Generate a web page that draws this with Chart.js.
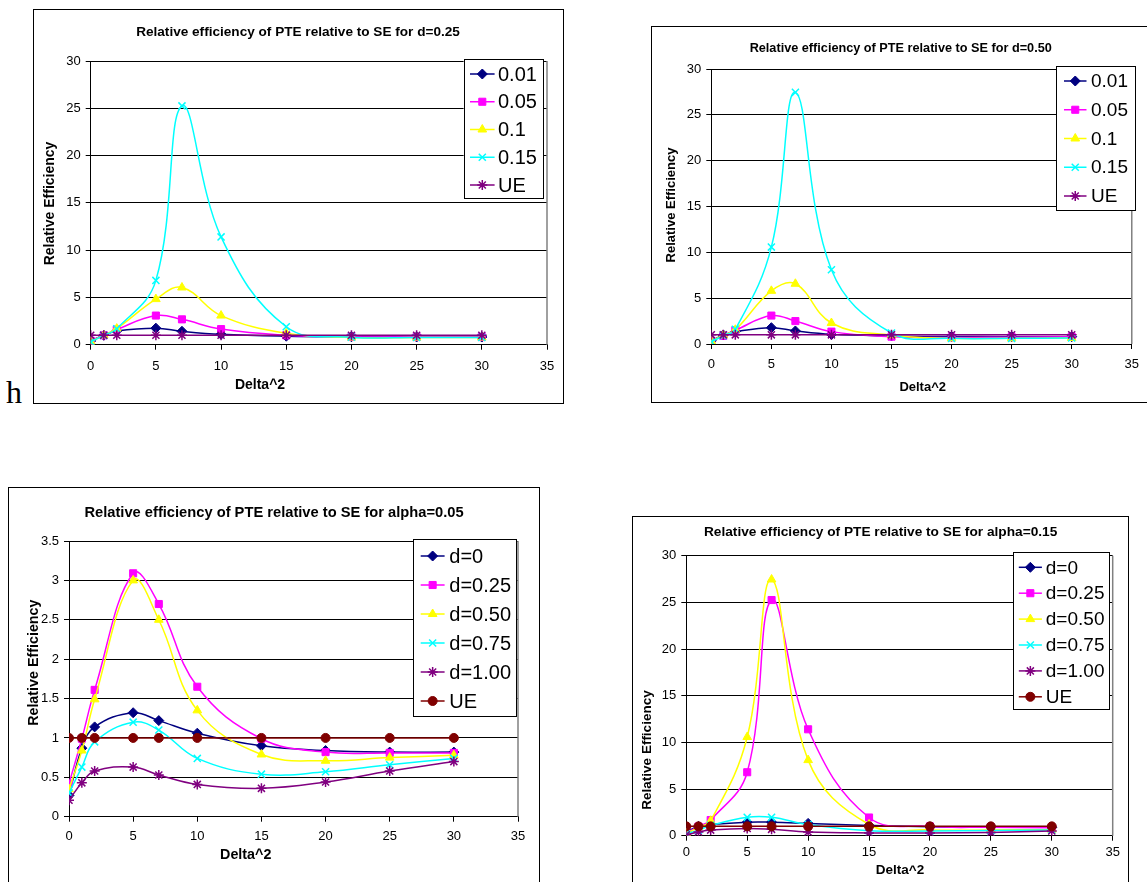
<!DOCTYPE html>
<html>
<head>
<meta charset="utf-8">
<script src="https://cdn.jsdelivr.net/npm/chart.js@4.4.0/dist/chart.umd.min.js"></script>
<style>
  body { margin: 0; background: #fff; width: 1147px; height: 882px; overflow: hidden; position: relative; }
  .frame { position: absolute; border: 1px solid #000; box-sizing: border-box; }
  canvas { position: absolute; left: 0; top: 0; pointer-events: none; }
  #h { position: absolute; left: 6px; top: 376px; font-family: "Liberation Serif", "DejaVu Serif", serif; font-size: 32px; line-height: 32px; }
</style>
</head>
<body>
<div id="h">h</div>
<div class="frame" style="left:33px;top:9px;width:531px;height:395px"></div>
<div class="frame" style="left:651px;top:26px;width:520px;height:377px"></div>
<div class="frame" style="left:8px;top:487px;width:532px;height:420px"></div>
<div class="frame" style="left:632px;top:516px;width:497px;height:400px"></div>
<canvas id="c1" width="1147" height="882"></canvas>
<canvas id="c2" width="1147" height="882"></canvas>
<canvas id="c3" width="1147" height="882"></canvas>
<canvas id="c4" width="1147" height="882"></canvas>
<script>
// Data
const deltaSq = [0, 1, 2, 5, 7, 10, 15, 20, 25, 30];

const alphaLabels = ['0.01', '0.05', '0.1', '0.15', 'UE'];
const dLabels = ['d=0', 'd=0.25', 'd=0.50', 'd=0.75', 'd=1.00', 'UE'];

// d = 0.25, by alpha
const a01_d25 = [0.40, 1.00, 1.45, 1.75, 1.42, 1.10, 0.90, 0.84, 0.82, 0.81];
const a05_d25 = [0.42, 0.99, 1.61, 3.08, 2.68, 1.65, 0.99, 0.82, 0.81, 0.81];
const a10_d25 = [0.35, 0.98, 1.70, 4.82, 6.05, 3.08, 1.20, 0.76, 0.75, 0.76];
const a15_d25 = [0.30, 0.98, 1.68, 6.80, 25.25, 11.40, 1.90, 0.80, 0.76, 0.76];
const ue_d25 = [1, 1, 1, 1, 1, 1, 1, 1, 1, 1];

// d = 0.50, by alpha
const a01_d50 = [0.35, 0.98, 1.34, 1.78, 1.42, 1.05, 0.88, 0.82, 0.80, 0.80];
const a05_d50 = [0.35, 0.88, 1.50, 3.10, 2.50, 1.35, 0.80, 0.72, 0.75, 0.78];
const a10_d50 = [0.30, 0.95, 1.55, 5.80, 6.57, 2.29, 0.95, 0.62, 0.62, 0.65];
const a15_d50 = [0.25, 0.90, 1.60, 10.57, 27.45, 8.10, 1.20, 0.62, 0.62, 0.65];
const ue_d50 = [1, 1, 1, 1, 1, 1, 1, 1, 1, 1];

// alpha = 0.05, by d
const d0_a05 = [0.27, 0.87, 1.14, 1.32, 1.22, 1.06, 0.90, 0.84, 0.82, 0.82];
const d25_a05 = [0.42, 0.99, 1.61, 3.09, 2.70, 1.65, 0.99, 0.82, 0.81, 0.81];
const d50_a05 = [0.35, 0.84, 1.49, 3.00, 2.50, 1.35, 0.79, 0.71, 0.75, 0.78];
const d75_a05 = [0.30, 0.63, 0.95, 1.20, 1.10, 0.74, 0.54, 0.57, 0.66, 0.74];
const d100_a05 = [0.21, 0.43, 0.58, 0.63, 0.53, 0.41, 0.36, 0.44, 0.58, 0.70];
const ue_a05 = [1, 1, 1, 1, 1, 1, 1, 1, 1, 1];

// alpha = 0.15, by d
const d0_a15 = [0.40, 1.00, 1.20, 1.45, 1.45, 1.32, 1.10, 0.95, 0.92, 0.90];
const d25_a15 = [0.30, 0.98, 1.68, 6.80, 25.25, 11.40, 1.95, 1.00, 0.90, 0.85];
const d50_a15 = [0.25, 0.90, 1.60, 10.57, 27.45, 8.10, 1.20, 0.62, 0.62, 0.65];
const d75_a15 = [0.20, 0.60, 1.10, 1.97, 1.97, 1.20, 0.54, 0.50, 0.55, 0.60];
const d100_a15 = [0.10, 0.40, 0.60, 0.78, 0.68, 0.40, 0.30, 0.30, 0.35, 0.50];
const ue_a15 = [1, 1, 1, 1, 1, 1, 1, 1, 1, 1];

// Styles
const FONT = '"Liberation Sans", Arial, sans-serif';
const W = 1147, H = 882;
const Y_W = 40, X_H = 30;

const navy = { color: '#000080', point: 'rectRot', r: 5 };
const pink = { color: '#FF00FF', point: 'rect', r: 5 };
const yellow = { color: '#FFFF00', point: 'triangle', r: 5 };
const cyan = { color: '#00FFFF', point: 'crossRot', r: 5 };
const purple = { color: '#800080', point: 'star', r: 5 };
const maroon = { color: '#800000', point: 'circle', r: 4.5 };

const charts = [
  {
    id: 'c1', title: 'Relative efficiency of PTE relative to SE for d=0.25', titleAt: [298, 32], titleSize: 13.6,
    plot: { l: 90.7, t: 61, r: 547, b: 344.7 }, yMax: 30, yStep: 5, xPad: 8.5,
    xTitleAt: [260, 385], yTitleAt: [50, 203.5], axisSize: 14,
    legend: { l: 463.6, t: 59, r: 543, b: 197.7, y0: 74, step: 27.75, lx1: 470, lx2: 494.6, tx: 498, size: 20 },
    labels: alphaLabels, styles: [navy, pink, yellow, cyan, purple],
    series: [a01_d25, a05_d25, a10_d25, a15_d25, ue_d25]
  },
  {
    id: 'c2', title: 'Relative efficiency of PTE relative to SE for d=0.50', titleAt: [900.7, 48.7], titleSize: 12.7,
    plot: { l: 711.3, t: 69, r: 1135, b: 344 }, yMax: 30, yStep: 5, xPad: 8,
    xTitleAt: [922.7, 387], yTitleAt: [671.5, 205], axisSize: 13,
    legend: { l: 1056, t: 66, r: 1134.7, b: 210, y0: 81, step: 28.75, lx1: 1064, lx2: 1086.5, tx: 1091, size: 19 },
    labels: alphaLabels, styles: [navy, pink, yellow, cyan, purple],
    series: [a01_d50, a05_d50, a10_d50, a15_d50, ue_d50]
  },
  {
    id: 'c3', title: 'Relative efficiency of PTE relative to SE for alpha=0.05', titleAt: [274, 513.3], titleSize: 14.7,
    plot: { l: 69, t: 541, r: 518, b: 816.7 }, yMax: 3.5, yStep: 0.5, xPad: 7,
    xTitleAt: [245.7, 855], yTitleAt: [34, 662.7], axisSize: 14.3,
    legend: { l: 413, t: 539, r: 516, b: 715.7, y0: 556, step: 29, lx1: 420.7, lx2: 444.6, tx: 449.3, size: 20 },
    labels: dLabels, styles: [navy, pink, yellow, cyan, purple, maroon],
    series: [d0_a05, d25_a05, d50_a05, d75_a05, d100_a05, ue_a05]
  },
  {
    id: 'c4', title: 'Relative efficiency of PTE relative to SE for alpha=0.15', titleAt: [880.6, 532.7], titleSize: 13.7,
    plot: { l: 686.3, t: 555.7, r: 1112.7, b: 835.7 }, yMax: 30, yStep: 5, xPad: 4,
    xTitleAt: [900, 870], yTitleAt: [646.8, 750], axisSize: 13.5,
    legend: { l: 1013.4, t: 552.3, r: 1109.4, b: 709, y0: 567.3, step: 25.9, lx1: 1018.8, lx2: 1041.9, tx: 1045.8, size: 19 },
    labels: dLabels, styles: [navy, pink, yellow, cyan, purple, maroon],
    series: [d0_a15, d25_a15, d50_a15, d75_a15, d100_a15, ue_a15]
  }
];

// Titles, plot frame and boxed legend
const decor = {
  id: 'decor',
  afterDraw(chart) {
    const cfg = chart.config._config.cfg;
    const ctx = chart.ctx;
    const area = chart.chartArea;
    ctx.save();

    // right edge of plot area
    ctx.strokeStyle = '#808080';
    ctx.lineWidth = 1.5;
    ctx.beginPath();
    ctx.moveTo(area.right, area.top);
    ctx.lineTo(area.right, area.bottom);
    ctx.stroke();

    ctx.fillStyle = '#000';
    ctx.textAlign = 'center';
    ctx.textBaseline = 'middle';
    ctx.font = 'bold ' + cfg.titleSize + 'px ' + FONT;
    ctx.fillText(cfg.title, cfg.titleAt[0], cfg.titleAt[1]);

    ctx.font = 'bold ' + cfg.axisSize + 'px ' + FONT;
    ctx.fillText('Delta^2', cfg.xTitleAt[0], cfg.xTitleAt[1]);
    ctx.save();
    ctx.translate(cfg.yTitleAt[0], cfg.yTitleAt[1]);
    ctx.rotate(-Math.PI / 2);
    ctx.fillText('Relative Efficiency', 0, 0);
    ctx.restore();

    // legend
    const lg = cfg.legend;
    ctx.fillStyle = '#fff';
    ctx.fillRect(lg.l, lg.t, lg.r - lg.l, lg.b - lg.t);
    ctx.strokeStyle = '#000';
    ctx.lineWidth = 1;
    ctx.strokeRect(Math.round(lg.l) + 0.5, Math.round(lg.t) + 0.5, Math.round(lg.r - lg.l), Math.round(lg.b - lg.t));

    chart.data.datasets.forEach((ds, i) => {
      const y = lg.y0 + i * lg.step;
      ctx.strokeStyle = ds.borderColor;
      ctx.lineWidth = 1.5;
      ctx.beginPath();
      ctx.moveTo(lg.lx1, y);
      ctx.lineTo(lg.lx2, y);
      ctx.stroke();
      ctx.fillStyle = ds.pointBackgroundColor;
      ctx.strokeStyle = ds.pointBorderColor;
      ctx.lineWidth = ds.pointBorderWidth;
      Chart.helpers.drawPoint(ctx, { pointStyle: ds.pointStyle, radius: ds.pointRadius, rotation: 0, borderWidth: ds.pointBorderWidth }, (lg.lx1 + lg.lx2) / 2, y);
      ctx.fillStyle = '#000';
      ctx.textAlign = 'left';
      ctx.font = lg.size + 'px ' + FONT;
      ctx.fillText(ds.label, lg.tx, y + 1);
    });
    ctx.restore();
  }
};

charts.forEach(cfg => {
  const datasets = cfg.labels.map((lab, i) => {
    const st = cfg.styles[i];
    return {
      label: lab,
      data: deltaSq.map((x, j) => ({ x: x, y: cfg.series[i][j] })),
      borderColor: st.color,
      backgroundColor: st.color,
      pointStyle: st.point,
      pointRadius: st.r,
      pointBackgroundColor: st.color,
      pointBorderColor: st.color,
      pointBorderWidth: (st.point === 'crossRot' || st.point === 'star') ? 1.5 : 1,
      borderWidth: 1.5,
      tension: 0.4,
      order: 10 - i
    };
  });

  const config = {
    type: 'line',
    data: { datasets: datasets },
    options: {
      responsive: false,
      animation: false,
      devicePixelRatio: 1,
      layout: {
        padding: {
          left: cfg.plot.l - Y_W,
          right: W - cfg.plot.r,
          top: cfg.plot.t,
          bottom: H - cfg.plot.b - X_H
        }
      },
      plugins: {
        legend: { display: false },
        tooltip: { enabled: false },
        title: { display: false }
      },
      scales: {
        x: {
          type: 'linear', min: 0, max: 35,
          ticks: { stepSize: 5, color: '#000', padding: cfg.xPad, font: { family: FONT, size: 13 }, callback: v => String(v) },
          grid: { display: true, drawOnChartArea: false, drawTicks: true, tickLength: 5, color: '#000' },
          border: { display: true, color: '#000', width: 1 },
          afterFit: s => { s.height = X_H; }
        },
        y: {
          min: 0, max: cfg.yMax,
          ticks: { stepSize: cfg.yStep, color: '#000', padding: 5, font: { family: FONT, size: 13 }, callback: v => String(v) },
          grid: { color: '#000', lineWidth: 1, drawTicks: true, tickLength: 5 },
          border: { display: true, color: '#000', width: 1 },
          afterFit: s => { s.width = Y_W; }
        }
      }
    },
    plugins: [decor]
  };
  config.cfg = cfg;
  new Chart(document.getElementById(cfg.id), config);
});
</script>
</body>
</html>
